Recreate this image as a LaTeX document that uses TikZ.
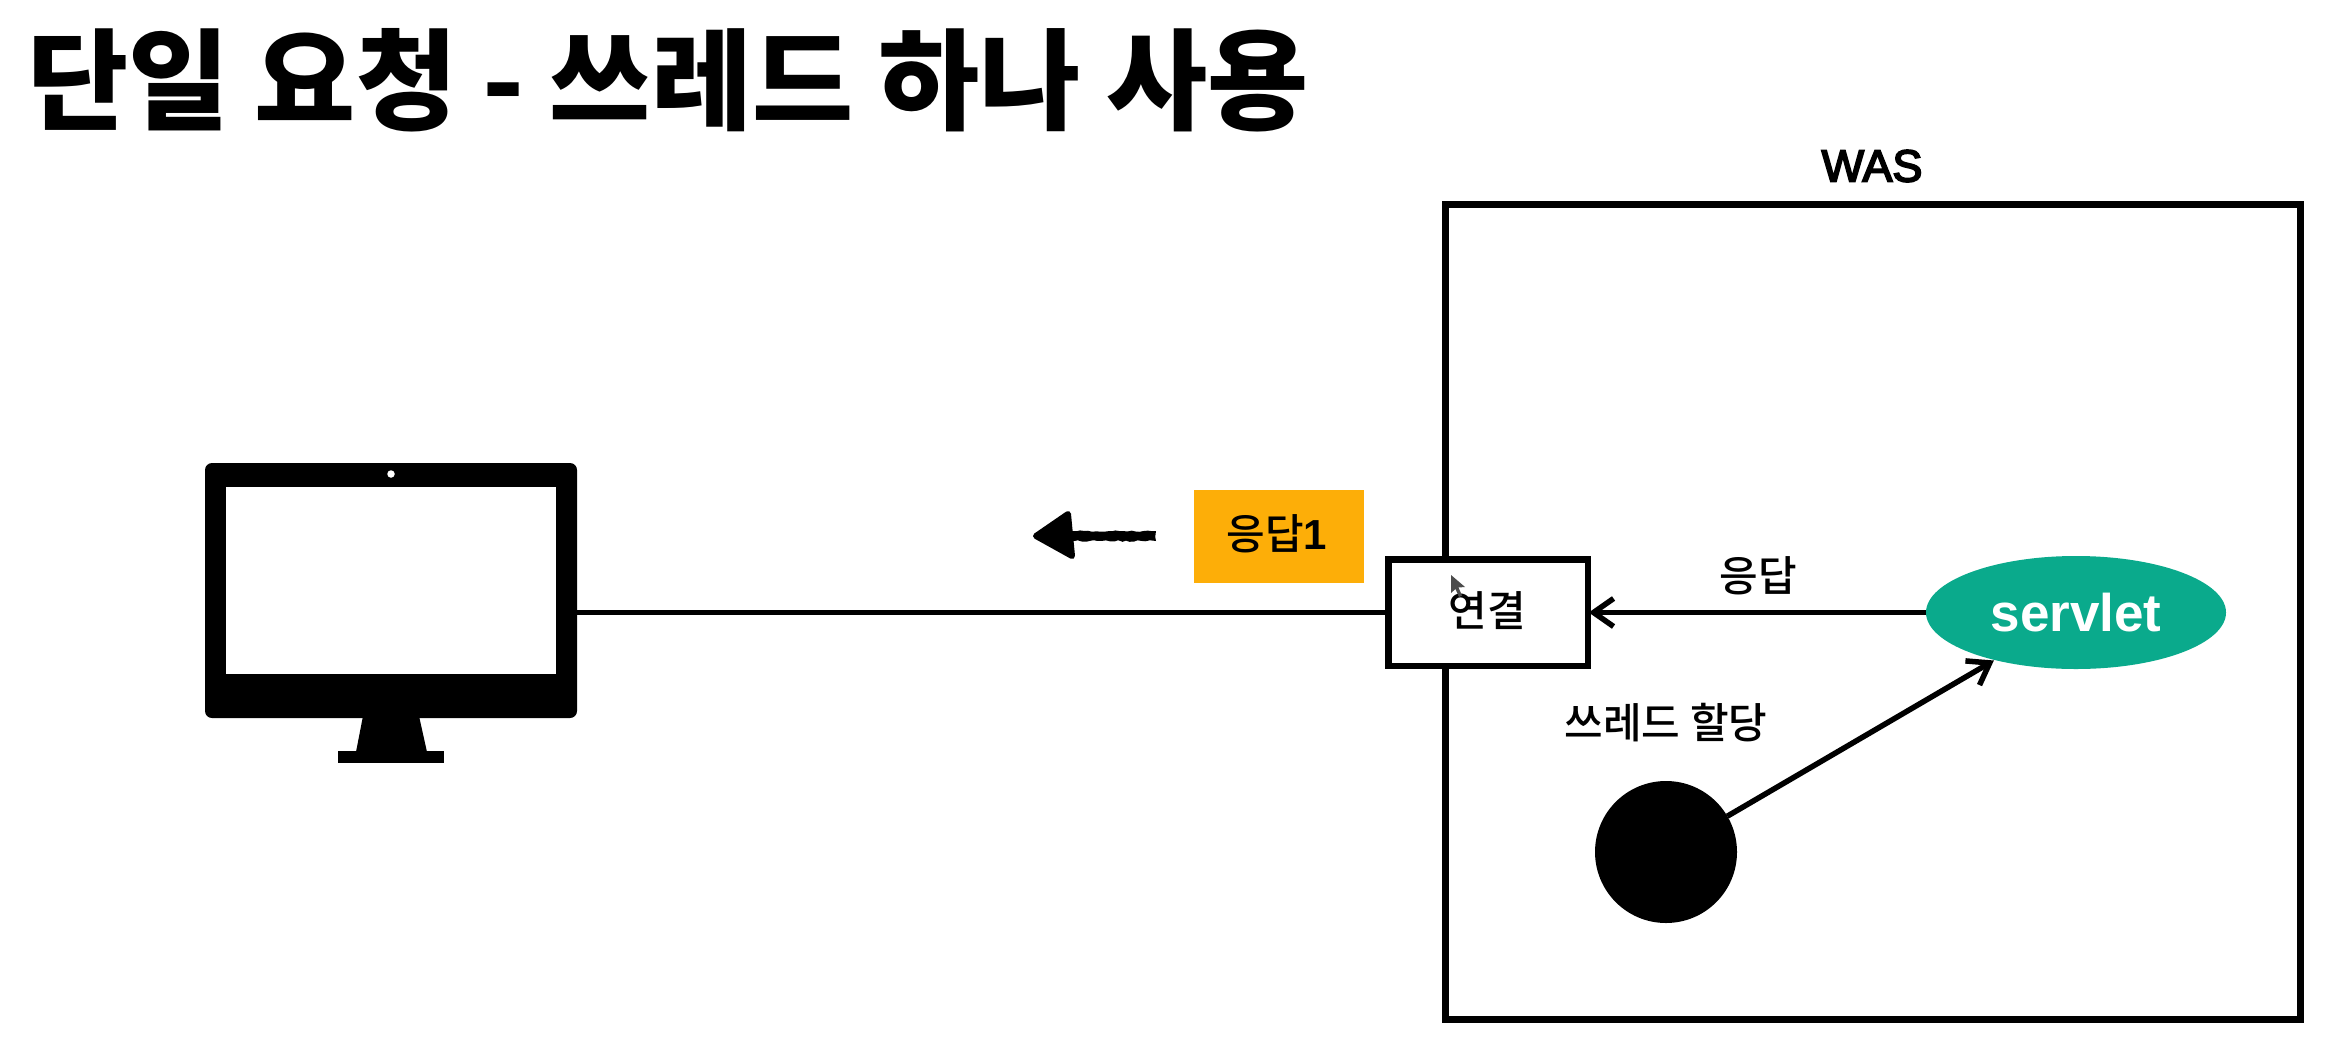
\documentclass[tikz,border=0pt]{standalone}
\usepackage{fontspec}
\setmainfont{Liberation Sans}
\newfontfamily\krfont{Noto Sans CJK KR}
\newfontfamily\krmed{Noto Sans CJK KR Medium}
\newfontfamily\wasfont[FakeBold=4]{Liberation Sans}
\usetikzlibrary{arrows.meta,shapes.geometric,decorations.pathmorphing}
\definecolor{servletgreen}{HTML}{0AAA8C}
\definecolor{respamber}{HTML}{FDAE08}
\tikzset{
  wire/.style={line width=5.5pt,draw=black},
  barb/.style={wire,-{Straight Barb[length=20pt,width=28pt,line width=5.5pt]},shorten >=1pt},
  label/.style={font=\krmed\fontsize{42}{50}\selectfont,inner sep=0pt,outer sep=0pt,text=black},
  flatbox/.style={rectangle,inner sep=0pt,outer sep=0pt},
  monitorpart/.style={flatbox,fill=black},
  rough/.style={decorate,decoration={random steps,segment length=4pt,amplitude=0.8pt}}
}
\begin{document}
\begin{tikzpicture}[x=1pt,y=-1pt]
\useasboundingbox (0,0) rectangle (2340,1058);
\fill[white] (0,0) rectangle (2340,1058);
% title
\node[inner sep=0pt,anchor=center,font=\krfont\bfseries\fontsize{110}{124}\selectfont] (title) at (668,80) {단일 요청 - 쓰레드 하나 사용};
% WAS box
\node[flatbox,draw=black,line width=7pt,minimum width=855.5pt,minimum height=815pt] (was) at (1872.75,612) {};
\node[inner sep=0pt,font=\wasfont\fontsize{45}{50}\selectfont] (waslabel) at (1872,166) {WAS};
% monitor
\node[monitorpart,rounded corners=7pt,minimum width=372pt,minimum height=255pt] (monitor) at (391,590.5) {};
\node[flatbox,fill=white,minimum width=330pt,minimum height=187pt] (screen) at (391,580.5) {};
\node[circle,fill=white,inner sep=0pt,outer sep=0pt,minimum size=7.5pt] (camera) at (391,474) {};
\fill[black] (363,716) -- (419,716) -- (427,752) -- (356,752) -- cycle;
\node[monitorpart,minimum width=106pt,minimum height=12pt] (base) at (391,757) {};
% connection box
\node[flatbox,draw=black,fill=white,line width=6.5pt,minimum width=199.5pt,minimum height=106.5pt] (conn) at (1488,612.5) {};
\node[label] (connlabel) at (1487,611) {연결};
\fill[black!70] (1451,575) -- (1451,593) -- (1455.5,589) -- (1459,597) -- (1462,595.5) -- (1458.5,587.5) -- (1465,587) -- cycle;
% line monitor to connection
\draw[wire] (monitor.east |- conn.west) -- (conn.west);
% response tag
\node[flatbox,fill=respamber,minimum width=170pt,minimum height=93pt] (tag) at (1278.5,536.5) {};
\node[label] (taglabel) at (1277,534) {응답{\normalfont\bfseries 1}};
% small moving arrow
\coordinate (movestart) at (1156,536);
\coordinate (moveend) at (1036,536);
\pgfmathsetseed{7}
\fill[black,rough] (movestart) ++(0,-5) -- (1070,531) -- (1070,541) -- (1156,541) -- cycle;
\fill[black,draw=black,line width=6pt,line join=round] (moveend) -- (1068,514) -- (1072,556) -- cycle;
% servlet
\node[ellipse,fill=servletgreen,inner sep=0pt,outer sep=0pt,minimum width=300pt,minimum height=113pt,text=white,font=\bfseries\fontsize{53}{60}\selectfont] (servlet) at (2076,612.5) {servlet};
\draw[barb] (servlet.west) -- (conn.east);
\node[label] (resplabel) at (1758,576) {응답};
% thread
\node[circle,fill=black,inner sep=0pt,outer sep=0pt,minimum size=142pt] (thread) at (1666,852) {};
\draw[barb] (thread) -- (servlet);
\node[label] (threadlabel) at (1666,723) {쓰레드 할당};
\end{tikzpicture}
\end{document}
